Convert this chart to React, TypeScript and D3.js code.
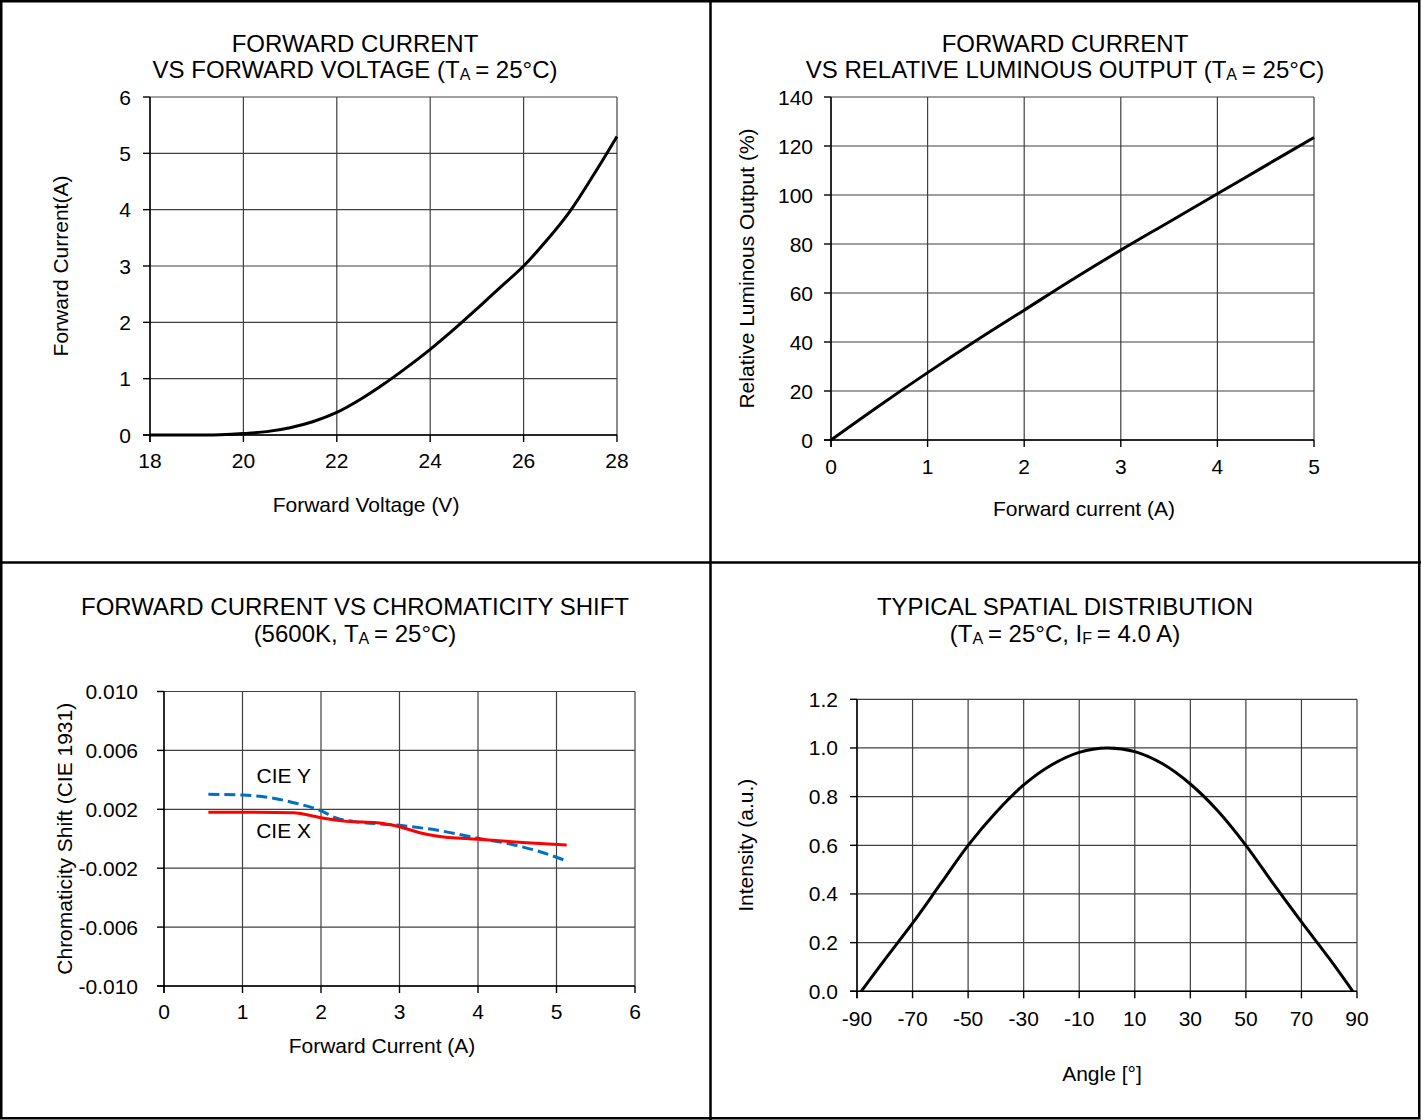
import React from 'react';
import * as d3 from 'd3';

// ---------- DATA ----------
// Panel 1: forward current vs forward voltage
const vfVoltage = [18, 19, 19.5, 20, 20.5, 21, 21.5, 22, 22.5, 23, 23.5, 24, 24.5, 25, 25.5, 26, 26.5, 27, 27.5, 28];
const vfCurrent = [0, 0, 0.004, 0.025, 0.06, 0.13, 0.24, 0.4, 0.63, 0.9, 1.2, 1.52, 1.87, 2.24, 2.62, 3.0, 3.46, 3.98, 4.62, 5.3];
const vfXTicks = [18, 20, 22, 24, 26, 28];
const vfXLabels = ['18', '20', '22', '24', '26', '28'];
const vfYTicks = [0, 1, 2, 3, 4, 5, 6];
const vfYLabels = ['0', '1', '2', '3', '4', '5', '6'];

// Panel 2: relative luminous output vs forward current
const lumCurrent = [0, 0.5, 1, 1.5, 2, 2.5, 3, 3.5, 4, 4.5, 5];
const lumOutput = [0, 14, 27.5, 40.5, 53, 65.5, 77.5, 89, 100.5, 112, 123.5];
const lumXTicks = [0, 1, 2, 3, 4, 5];
const lumXLabels = ['0', '1', '2', '3', '4', '5'];
const lumYTicks = [0, 20, 40, 60, 80, 100, 120, 140];
const lumYLabels = ['0', '20', '40', '60', '80', '100', '120', '140'];

// Panel 3: chromaticity shift vs forward current
const cieXCurrent = [0.565, 1.0, 1.65, 1.77, 2.0, 2.33, 2.71, 3.0, 3.26, 3.47, 4.0, 4.62, 5.13];
const cieXShift = [0.0018, 0.0018, 0.00177, 0.00168, 0.00143, 0.00118, 0.00109, 0.00082, 0.00041, 0.00019, -0.00004, -0.00027, -0.00043];
const cieYCurrent = [0.565, 1.0, 1.35, 1.65, 2.0, 2.2, 2.41, 3.0, 3.47, 4.0, 4.41, 4.79, 5.13];
const cieYShift = [0.00302, 0.00297, 0.00279, 0.00245, 0.0019, 0.00139, 0.00118, 0.00091, 0.00059, 0.00003, -0.00036, -0.00088, -0.00151];
const chrXTicks = [0, 1, 2, 3, 4, 5, 6];
const chrXLabels = ['0', '1', '2', '3', '4', '5', '6'];
const chrYTicks = [-0.01, -0.006, -0.002, 0.002, 0.006, 0.01];
const chrYLabels = ['-0.010', '-0.006', '-0.002', '0.002', '0.006', '0.010'];

// Panel 4: spatial distribution
const spAngle = [-88.5, -80, -70, -60, -50, -40, -30, -20, -10, 0, 10, 20, 30, 40, 50, 60, 70, 80, 88.5];
const spIntensity = [0, 0.13, 0.28, 0.44, 0.6, 0.735, 0.848, 0.93, 0.982, 1.0, 0.985, 0.935, 0.852, 0.74, 0.6, 0.44, 0.285, 0.135, 0];
const spXTicks = [-90, -70, -50, -30, -10, 10, 30, 50, 70, 90];
const spXLabels = ['-90', '-70', '-50', '-30', '-10', '10', '30', '50', '70', '90'];
const spYTicks = [0, 0.2, 0.4, 0.6, 0.8, 1.0, 1.2];
const spYLabels = ['0.0', '0.2', '0.4', '0.6', '0.8', '1.0', '1.2'];

const FONT = 'Liberation Sans, Arial, Helvetica, sans-serif';
const GRID = '#404040';

type Series = { xs: number[]; ys: number[]; color: string; dash?: string; smooth?: 'mono' | 'cr' };

type PanelProps = {
  px: [number, number];
  py: [number, number]; // [top, bottom]
  xDomain: [number, number];
  yDomain: [number, number];
  xTicks: number[];
  xLabels: string[];
  yTicks: number[];
  yLabels: string[];
  yLabelRight: number;
  xLabelBase: number;
  xTitle: string;
  xTitleX: number;
  xTitleY: number;
  yTitle: string;
  yTitleX: number;
  series: Series[];
  children?: React.ReactNode;
};

function Panel(p: PanelProps) {
  const x = d3.scaleLinear().domain(p.xDomain).range(p.px);
  const y = d3.scaleLinear().domain(p.yDomain).range([p.py[1], p.py[0]]);
  const [left, right] = p.px;
  const [top, bottom] = p.py;
  const tick = 7;
  const yMid = (top + bottom) / 2;
  return (
    <g fontFamily={FONT} fill="#000">
      {p.xTicks.map((t, i) => (
        <line key={'gx' + i} x1={x(t)} x2={x(t)} y1={top} y2={bottom} stroke={GRID} strokeWidth={1.2} />
      ))}
      {p.yTicks.map((t, i) => (
        <line key={'gy' + i} x1={left} x2={right} y1={y(t)} y2={y(t)} stroke={GRID} strokeWidth={1.2} />
      ))}
      <line x1={left} x2={left} y1={top} y2={bottom + tick} stroke="#000" strokeWidth={1.4} />
      <line x1={left - tick} x2={right} y1={bottom} y2={bottom} stroke="#000" strokeWidth={1.4} />
      {p.xTicks.map((t, i) => (
        <line key={'tx' + i} x1={x(t)} x2={x(t)} y1={bottom} y2={bottom + tick} stroke="#000" strokeWidth={1.4} />
      ))}
      {p.yTicks.map((t, i) => (
        <line key={'ty' + i} x1={left - tick} x2={left} y1={y(t)} y2={y(t)} stroke="#000" strokeWidth={1.4} />
      ))}
      {p.xTicks.map((t, i) => (
        <text key={'lx' + i} x={x(t)} y={p.xLabelBase} fontSize={21} textAnchor="middle">
          {p.xLabels[i]}
        </text>
      ))}
      {p.yTicks.map((t, i) => (
        <text key={'ly' + i} x={p.yLabelRight} y={y(t) + 7.5} fontSize={21} textAnchor="end">
          {p.yLabels[i]}
        </text>
      ))}
      {p.series.map((s, i) => {
        const pts = s.xs.map((v, j) => [v, s.ys[j]] as [number, number]);
        const gen = d3
          .line<[number, number]>()
          .x((d) => x(d[0]))
          .y((d) => y(d[1]))
          .curve(s.smooth === 'cr' ? d3.curveCatmullRom.alpha(0.5) : d3.curveMonotoneX);
        return (
          <path
            key={'s' + i}
            d={gen(pts) || ''}
            fill="none"
            stroke={s.color}
            strokeWidth={3}
            strokeDasharray={s.dash}
            strokeLinejoin="round"
          />
        );
      })}
      <text x={p.xTitleX} y={p.xTitleY} fontSize={21} textAnchor="middle">
        {p.xTitle}
      </text>
      <text transform={`translate(${p.yTitleX},${yMid}) rotate(-90)`} fontSize={21} textAnchor="middle">
        {p.yTitle}
      </text>
      {p.children}
    </g>
  );
}

function Sub({ c }: { c: string }) {
  return (
    <>
      <tspan fontSize={16} dy={2}>
        {c}
      </tspan>
      <tspan dy={-2}>{'\u2009'}</tspan>
    </>
  );
}

export default function App() {
  return (
    <svg
      width={1421}
      height={1120}
      style={{ position: 'absolute', left: 0, top: 0, background: '#fff' }}
      fontFamily={FONT}
    >
      <rect x={0} y={0} width={1421} height={1120} fill="#fff" />

      <g fontSize={24} textAnchor="middle" fontFamily={FONT}>
        <text x={355} y={52}>FORWARD CURRENT</text>
        <text x={355} y={78}>
          VS FORWARD VOLTAGE (T<Sub c="A" />= 25°C)
        </text>
        <text x={1065} y={52}>FORWARD CURRENT</text>
        <text x={1065} y={78}>
          VS RELATIVE LUMINOUS OUTPUT (T<Sub c="A" />= 25°C)
        </text>
        <text x={355} y={615}>FORWARD CURRENT VS CHROMATICITY SHIFT</text>
        <text x={355} y={642}>
          (5600K, T<Sub c="A" />= 25°C)
        </text>
        <text x={1065} y={615}>TYPICAL SPATIAL DISTRIBUTION</text>
        <text x={1065} y={642}>
          (T<Sub c="A" />= 25°C, I<Sub c="F" />= 4.0 A)
        </text>
      </g>

      <Panel
        px={[150, 617]}
        py={[97, 435]}
        xDomain={[18, 28]}
        yDomain={[0, 6]}
        xTicks={vfXTicks}
        xLabels={vfXLabels}
        yTicks={vfYTicks}
        yLabels={vfYLabels}
        yLabelRight={131}
        xLabelBase={468}
        xTitle="Forward Voltage (V)"
        xTitleX={366}
        xTitleY={512}
        yTitle="Forward Current(A)"
        yTitleX={68}
        series={[{ xs: vfVoltage, ys: vfCurrent, color: '#000', smooth: 'cr' }]}
      />

      <Panel
        px={[831, 1314]}
        py={[97, 440]}
        xDomain={[0, 5]}
        yDomain={[0, 140]}
        xTicks={lumXTicks}
        xLabels={lumXLabels}
        yTicks={lumYTicks}
        yLabels={lumYLabels}
        yLabelRight={813}
        xLabelBase={474}
        xTitle="Forward current (A)"
        xTitleX={1084}
        xTitleY={516}
        yTitle="Relative Luminous Output (%)"
        yTitleX={754}
        series={[{ xs: lumCurrent, ys: lumOutput, color: '#000', smooth: 'cr' }]}
      />

      <Panel
        px={[164, 635]}
        py={[691.5, 986]}
        xDomain={[0, 6]}
        yDomain={[-0.01, 0.01]}
        xTicks={chrXTicks}
        xLabels={chrXLabels}
        yTicks={chrYTicks}
        yLabels={chrYLabels}
        yLabelRight={138}
        xLabelBase={1019}
        xTitle="Forward Current (A)"
        xTitleX={382}
        xTitleY={1053}
        yTitle="Chromaticity Shift (CIE 1931)"
        yTitleX={72}
        series={[
          { xs: cieYCurrent, ys: cieYShift, color: '#0070C0', dash: '11,5', smooth: 'mono' },
          { xs: cieXCurrent, ys: cieXShift, color: '#FF0000', smooth: 'mono' },
        ]}
      >
        <text x={311} y={783} fontSize={21} textAnchor="end">CIE Y</text>
        <text x={311} y={838} fontSize={21} textAnchor="end">CIE X</text>
      </Panel>

      <Panel
        px={[857, 1357]}
        py={[699.3, 991.3]}
        xDomain={[-90, 90]}
        yDomain={[0, 1.2]}
        xTicks={spXTicks}
        xLabels={spXLabels}
        yTicks={spYTicks}
        yLabels={spYLabels}
        yLabelRight={838}
        xLabelBase={1026}
        xTitle="Angle [°]"
        xTitleX={1102}
        xTitleY={1081}
        yTitle="Intensity (a.u.)"
        yTitleX={753}
        series={[{ xs: spAngle, ys: spIntensity, color: '#000', smooth: 'cr' }]}
      />

      <rect x={1.25} y={1.25} width={1418} height={1117} fill="none" stroke="#000" strokeWidth={2.5} />
      <line x1={710.5} x2={710.5} y1={0} y2={1120} stroke="#000" strokeWidth={2.5} />
      <line x1={0} x2={1421} y1={562.5} y2={562.5} stroke="#000" strokeWidth={2.5} />
    </svg>
  );
}
